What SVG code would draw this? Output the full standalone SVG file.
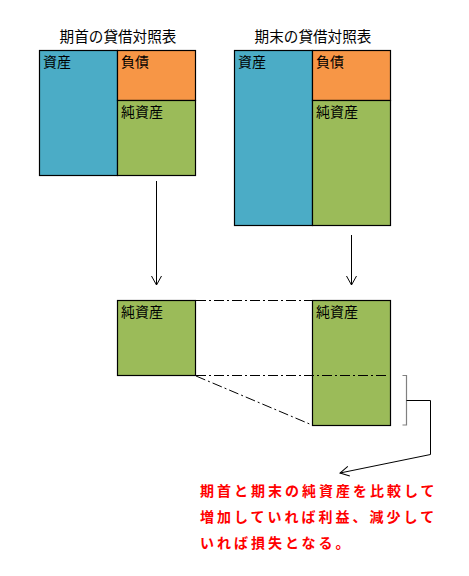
<svg xmlns="http://www.w3.org/2000/svg" width="469" height="576" viewBox="0 0 469 576">
<defs>
<style>
.t{font-family:"Noto Sans CJK JP","Liberation Sans",sans-serif;font-size:14.6px;fill:#000}
.lb{font-family:"Noto Sans CJK JP","Liberation Sans",sans-serif;font-size:14px;fill:#000}
.b{stroke:#000;stroke-width:1.2}
.as{fill:#4BACC6}.li{fill:#F79646}.eq{fill:#9BBB59}
.dd{fill:none;stroke:#000;stroke-width:1;stroke-dasharray:10 3 2 3}
.ln{fill:none;stroke:#000;stroke-width:1}
.note{font-family:"Noto Sans CJK JP",sans-serif;font-size:14px;font-weight:bold;fill:#FF0000;letter-spacing:3px}
</style>
<marker id="ah" markerWidth="12" markerHeight="12" refX="10" refY="6" orient="auto" markerUnits="userSpaceOnUse">
<path d="M1,1 L10,6 L1,11" fill="none" stroke="#000" stroke-width="1"/>
</marker>
</defs>
<rect width="469" height="576" fill="#fff"/>
<g id="bs-start">
<text class="t" x="118" y="42" text-anchor="middle">期首の貸借対照表</text>
<rect class="b as" x="39.5" y="50.5" width="78" height="125"/>
<rect class="b li" x="117.5" y="50.5" width="78" height="50"/>
<rect class="b eq" x="117.5" y="100.5" width="78" height="75"/>
<text class="lb" x="43" y="67">資産</text>
<text class="lb" x="121" y="67">負債</text>
<text class="lb" x="121" y="117">純資産</text>
</g>
<g id="bs-end">
<text class="t" x="313" y="42" text-anchor="middle">期末の貸借対照表</text>
<rect class="b as" x="234.5" y="50.5" width="78" height="175"/>
<rect class="b li" x="312.5" y="50.5" width="78" height="50"/>
<rect class="b eq" x="312.5" y="100.5" width="78" height="125"/>
<text class="lb" x="238" y="67">資産</text>
<text class="lb" x="316" y="67">負債</text>
<text class="lb" x="316" y="117">純資産</text>
</g>
<g id="na-start">
<rect class="b eq" x="117.5" y="300.5" width="78" height="75"/>
<text class="lb" x="121" y="317">純資産</text>
</g>
<g id="na-end">
<rect class="b eq" x="312.5" y="300.5" width="78" height="125"/>
<text class="lb" x="316" y="317">純資産</text>
</g>
<g id="connectors">
<line class="ln" x1="156.5" y1="181" x2="156.5" y2="285" marker-end="url(#ah)"/>
<line class="ln" x1="351.5" y1="235" x2="351.5" y2="285" marker-end="url(#ah)"/>
<line class="dd" x1="196" y1="300.5" x2="312" y2="300.5"/>
<line class="dd" x1="196" y1="375.5" x2="387" y2="375.5"/>
<line class="dd" x1="196" y1="376" x2="312" y2="425"/>
<path d="M402.5,375.5 H406.5 V425 H402.5" fill="none" stroke="#808080" stroke-width="1.2"/>
<path class="ln" d="M406.5,400.5 H430.5 V454.5 L340,473" marker-end="url(#ah)"/>
</g>
<g id="note">
<text class="note" x="200" y="496">期首と期末の純資産を比較して</text>
<text class="note" x="200" y="522">増加していれば利益、減少して</text>
<text class="note" x="200" y="548">いれば損失となる。</text>
</g>
</svg>
